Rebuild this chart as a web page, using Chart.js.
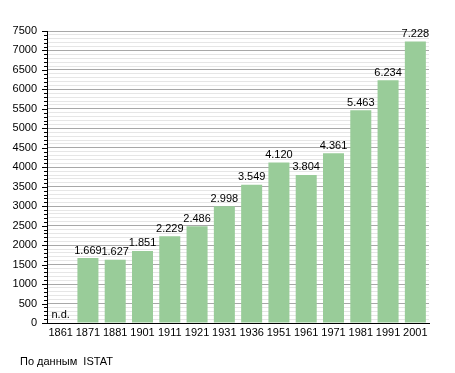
<!DOCTYPE html>
<html>
<head>
<meta charset="utf-8">
<script src="https://cdn.jsdelivr.net/npm/chart.js@4"></script>
<style>
  html, body { margin: 0; padding: 0; background: #fff; }
  #wrap { position: relative; width: 455px; height: 373px; }
  #footer {
    position: absolute; left: 20px; top: 355px;
    font: 11px "Liberation Sans", Arial, sans-serif; color: #000;
  }
</style>
</head>
<body>
<div id="wrap">
  <canvas id="chart" width="455" height="373"></canvas>
  <div id="footer">По данным&nbsp; ISTAT</div>
</div>
<script>
const years = ['1861', '1871', '1881', '1901', '1911', '1921', '1931', '1936', '1951', '1961', '1971', '1981', '1991', '2001'];
const population = [null, 1669, 1627, 1851, 2229, 2486, 2998, 3549, 4120, 3804, 4361, 5463, 6234, 7228];
const missingLabel = 'n.d.';
const yMax = 7500;

const FONT = '"Liberation Sans", Arial, sans-serif';

function fmt(v) {
  return String(v).replace(/\B(?=(\d{3})+(?!\d))/g, '.');
}

// value labels above bars, "n.d." where there is no data
const barLabels = {
  id: 'barLabels',
  afterDatasetsDraw(chart) {
    const { ctx } = chart;
    const meta = chart.getDatasetMeta(0);
    const yScale = chart.scales.y;
    ctx.save();
    ctx.font = `11px ${FONT}`;
    ctx.fillStyle = '#000';
    ctx.textAlign = 'center';
    ctx.textBaseline = 'bottom';
    meta.data.forEach((bar, i) => {
      const v = population[i];
      if (v == null) {
        ctx.fillText(missingLabel, bar.x, yScale.getPixelForValue(0) - 3);
      } else {
        ctx.fillText(fmt(v), bar.x, bar.y - 2);
      }
    });
    ctx.restore();
  },
};

// y ticks: long at every 500, short in between
const yTicks = {
  id: 'yTicks',
  afterDraw(chart) {
    const { ctx } = chart;
    const yScale = chart.scales.y;
    const x0 = chart.chartArea.left;
    ctx.save();
    ctx.strokeStyle = '#000';
    ctx.lineWidth = 1;
    ctx.beginPath();
    yScale.ticks.forEach((t) => {
      const y = Math.round(yScale.getPixelForValue(t.value)) + 0.5;
      const len = t.value % 500 === 0 ? 5 : 3;
      ctx.moveTo(x0 - len, y);
      ctx.lineTo(x0, y);
    });
    ctx.stroke();
    ctx.restore();
  },
};

// eslint-disable-next-line no-new
new Chart(document.getElementById('chart'), {
  type: 'bar',
  data: {
    labels: years,
    datasets: [{
      data: population,
      backgroundColor: '#99cc99',
      barPercentage: 0.77,
      categoryPercentage: 1,
    }],
  },
  plugins: [barLabels, yTicks],
  options: {
    responsive: false,
    animation: false,
    layout: {
      padding: { left: 0, right: 26, top: 31, bottom: 26 },
    },
    plugins: {
      legend: { display: false },
      tooltip: { enabled: false },
    },
    scales: {
      x: {
        grid: { display: false, drawTicks: false },
        border: { color: '#000', width: 1 },
        ticks: {
          color: '#000',
          padding: 3,
          autoSkip: false,
          maxRotation: 0,
          font: { family: FONT, size: 11 },
        },
        afterFit(scale) { scale.height = 24; },
      },
      y: {
        min: 0,
        max: yMax,
        border: { color: '#000', width: 1 },
        grid: {
          color(ctx) {
            return ctx.tick.value % 500 === 0 ? '#a8a8a8' : '#e6e6e6';
          },
          drawTicks: false,
        },
        ticks: {
          stepSize: 100,
          autoSkip: false,
          color: '#000',
          padding: 10,
          font: { family: FONT, size: 11 },
          callback(val) {
            return val % 500 === 0 ? String(val) : '';
          },
        },
        afterFit(scale) { scale.width = 47; },
      },
    },
  },
});
</script>
</body>
</html>
